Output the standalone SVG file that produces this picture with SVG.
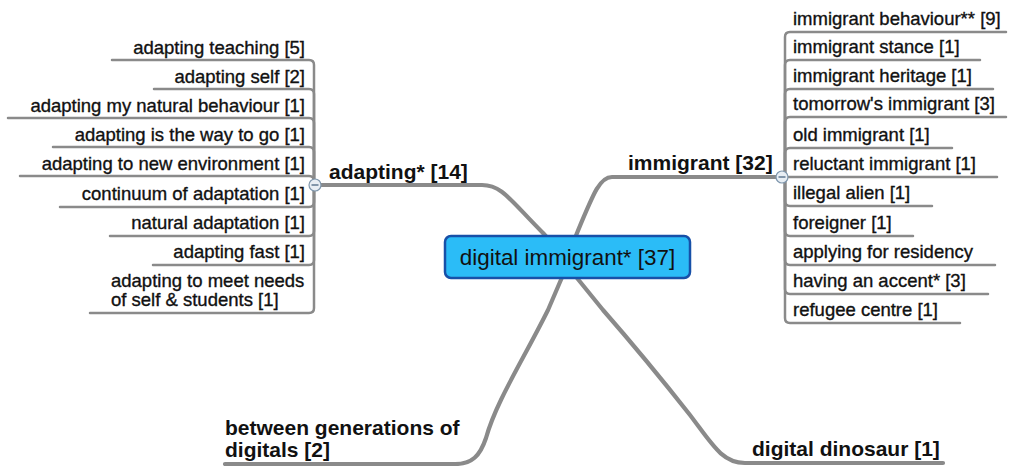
<svg xmlns="http://www.w3.org/2000/svg" width="1010" height="466" viewBox="0 0 1010 466">
  <style>
    .link { fill: none; stroke: #8a8a8a; stroke-linecap: round; stroke-linejoin: round; }
    .main { stroke-width: 4.2; }
    .sub { stroke-width: 2.5; }
    .leaf { font-family: "Liberation Sans", Arial, sans-serif; font-size: 18.5px; fill: #111; stroke: #111; stroke-width: 0.35; }
    .branch { font-family: "Liberation Sans", Arial, sans-serif; font-size: 21px; font-weight: bold; fill: #111; }
    .root { font-family: "Liberation Sans", Arial, sans-serif; font-size: 22.4px; fill: #111; }
    .left { text-anchor: end; }
    .toggle circle { fill: #e8eef4; stroke: #7f97ad; stroke-width: 1.2; }
    .toggle line { stroke: #56708a; stroke-width: 1.4; }
  </style>

  <!-- connectors -->
  <g id="connectors">
    <!-- root to main topics -->
    <path class="link main" d="M 313 185 H 482 C 502 185, 510 200, 543 233 L 560 252"/>
    <path class="link main" d="M 782 177 H 612 C 600 177, 594 192, 577 233 L 570 252"/>
    <path class="link main" d="M 563 275 L 548 310 C 522 362, 496 402, 486 438 C 480 456, 472 464, 455 464 H 225"/>
    <path class="link main" d="M 577 278 L 603 310 C 638 350, 664 382, 690 415 C 712 444, 722 463, 745 463 H 943"/>

    <!-- adapting* subtopics -->
    <g class="link sub">
      <path d="M 314 185 V 65 Q 314 60 309 60 H 112"/>
      <path d="M 314 185 V 94 Q 314 89 309 89 H 154"/>
      <path d="M 314 185 V 123 Q 314 118 309 118 H 8"/>
      <path d="M 314 185 V 152 Q 314 147 309 147 H 53"/>
      <path d="M 314 185 V 181 Q 314 176 309 176 H 20"/>
      <path d="M 314 185 V 202 Q 314 207 309 207 H 60"/>
      <path d="M 314 185 V 231 Q 314 236 309 236 H 110"/>
      <path d="M 314 185 V 260 Q 314 265 309 265 H 153"/>
      <path d="M 314 185 V 308 Q 314 313 309 313 H 90"/>
    </g>

    <!-- immigrant subtopics -->
    <g class="link sub">
      <path d="M 785 177 V 37 Q 785 32 790 32 H 1006"/>
      <path d="M 785 177 V 65 Q 785 60 790 60 H 980"/>
      <path d="M 785 177 V 94 Q 785 89 790 89 H 993"/>
      <path d="M 785 177 V 122 Q 785 117 790 117 H 1006"/>
      <path d="M 785 177 V 153 Q 785 148 790 148 H 952"/>
      <path d="M 785 177 H 997"/>
      <path d="M 785 177 V 201 Q 785 206 790 206 H 932"/>
      <path d="M 785 177 V 231 Q 785 236 790 236 H 913"/>
      <path d="M 785 177 V 260 Q 785 265 790 265 H 995"/>
      <path d="M 785 177 V 289 Q 785 294 790 294 H 988"/>
      <path d="M 785 177 V 318 Q 785 323 790 323 H 960"/>
    </g>
  </g>

  <!-- central topic -->
  <g id="root">
    <rect x="445" y="236" width="245" height="42" rx="6" fill="#2bbcf7" stroke="#1750a8" stroke-width="2.5"/>
    <text class="root" x="567.5" y="265" text-anchor="middle">digital immigrant* [37]</text>
  </g>

  <!-- main topic: adapting -->
  <g id="adapting">
    <text class="branch" x="329" y="179">adapting* [14]</text>
    <g class="toggle"><circle cx="315" cy="185" r="6"/><line x1="311.5" y1="185" x2="318.5" y2="185"/></g>
  </g>
  <g id="adapting-teaching"><text class="leaf left" x="305" y="54">adapting teaching [5]</text></g>
  <g id="adapting-self"><text class="leaf left" x="305" y="83">adapting self [2]</text></g>
  <g id="adapting-natural-behaviour"><text class="leaf left" x="305" y="112">adapting my natural behaviour [1]</text></g>
  <g id="adapting-way-to-go"><text class="leaf left" x="305" y="141">adapting is the way to go [1]</text></g>
  <g id="adapting-new-environment"><text class="leaf left" x="305" y="170">adapting to new environment [1]</text></g>
  <g id="continuum"><text class="leaf left" x="305" y="200">continuum of adaptation [1]</text></g>
  <g id="natural-adaptation"><text class="leaf left" x="305" y="229">natural adaptation [1]</text></g>
  <g id="adapting-fast"><text class="leaf left" x="305" y="258">adapting fast [1]</text></g>
  <g id="adapting-needs">
    <text class="leaf" x="111" y="287">adapting to meet needs</text>
    <text class="leaf" x="111" y="306">of self &amp; students [1]</text>
  </g>

  <!-- main topic: immigrant -->
  <g id="immigrant">
    <text class="branch" x="628" y="170">immigrant [32]</text>
    <g class="toggle"><circle cx="782" cy="177" r="6"/><line x1="778.5" y1="177" x2="785.5" y2="177"/></g>
  </g>
  <g id="immigrant-behaviour"><text class="leaf" x="793" y="25">immigrant behaviour** [9]</text></g>
  <g id="immigrant-stance"><text class="leaf" x="793" y="53">immigrant stance [1]</text></g>
  <g id="immigrant-heritage"><text class="leaf" x="793" y="82">immigrant heritage [1]</text></g>
  <g id="tomorrows-immigrant"><text class="leaf" x="793" y="110">tomorrow's immigrant [3]</text></g>
  <g id="old-immigrant"><text class="leaf" x="793" y="141">old immigrant [1]</text></g>
  <g id="reluctant-immigrant"><text class="leaf" x="793" y="170">reluctant immigrant [1]</text></g>
  <g id="illegal-alien"><text class="leaf" x="793" y="199">illegal alien [1]</text></g>
  <g id="foreigner"><text class="leaf" x="793" y="229">foreigner [1]</text></g>
  <g id="residency"><text class="leaf" x="793" y="258">applying for residency</text></g>
  <g id="accent"><text class="leaf" x="793" y="287">having an accent* [3]</text></g>
  <g id="refugee-centre"><text class="leaf" x="793" y="316">refugee centre [1]</text></g>

  <!-- main topic: between generations -->
  <g id="between-generations">
    <text class="branch" x="225" y="435">between generations of</text>
    <text class="branch" x="225" y="457">digitals [2]</text>
  </g>

  <!-- main topic: digital dinosaur -->
  <g id="digital-dinosaur">
    <text class="branch" x="752" y="456">digital dinosaur [1]</text>
  </g>
</svg>
